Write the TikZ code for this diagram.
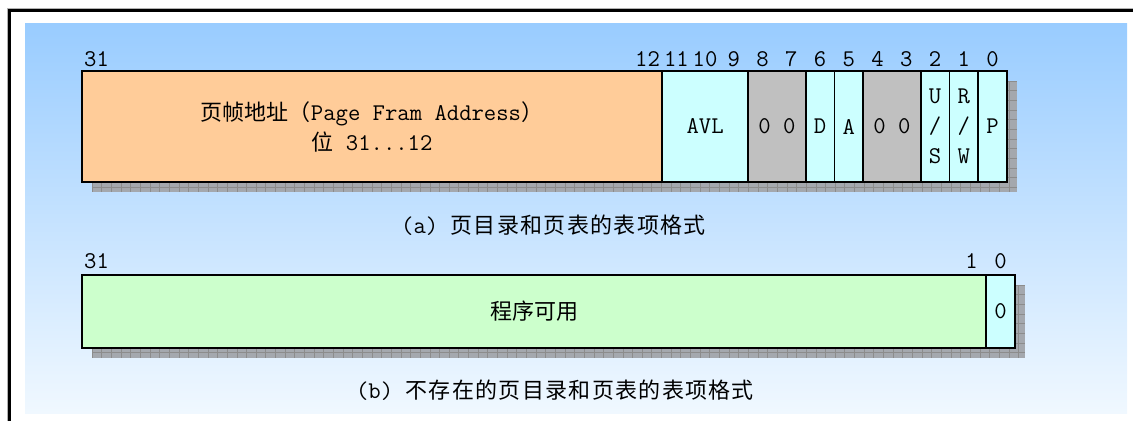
\documentclass[tikz,border=0pt]{standalone}
\usepackage{fontspec}
\newfontfamily\cjkf{Noto Sans CJK SC}
\newfontfamily\cjkcapf[LetterSpace=6]{Noto Sans CJK SC}
\newcommand\cjk{\cjkf\fontsize{22}{30}\selectfont}
\newcommand\cjkcap{\cjkcapf\fontsize{22}{30}\selectfont}
\definecolor{bgtop}{HTML}{99CCFF}
\definecolor{bgbot}{HTML}{F0F8FF}
\definecolor{orangec}{HTML}{FFCC99}
\definecolor{cyanc}{HTML}{CCFFFF}
\definecolor{grayc}{HTML}{C0C0C0}
\definecolor{greenc}{HTML}{CCFFCC}
\definecolor{shadowc}{HTML}{A4A8AE}
\definecolor{shadowl}{HTML}{8C8C8C}
\newcommand\mainfs{\ttfamily\fontsize{24}{30}\selectfont\addfontfeature{FakeStretch=0.85}}
\newcommand\mkshadow[4]{%
  \begin{scope}
    \clip (#1,#2) rectangle (#3,#4);
    \fill[shadowc] (#1,#2) rectangle (#3,#4);
    \foreach \xx in {0,9.65,...,1000} \draw[shadowline] (#1+\xx,#2) -- (#1+\xx,#4);
    \foreach \yy in {0,9.65,...,200} \draw[shadowline] (#1,#2+\yy) -- (#3,#2+\yy);
  \end{scope}}
\begin{document}
\begin{tikzpicture}[x=1pt,y=-1pt,
  cell/.style={draw=black, line width=1.6pt, inner sep=0pt, align=center, font=\mainfs},
  bitlabel/.style={inner sep=0pt, font=\mainfs},
  caption/.style={inner sep=0pt, font=\mainfs},
  shadowline/.style={draw=shadowl, line width=0.5pt}]
\useasboundingbox (0,0) rectangle (1133,421);
% background
\shade[top color=bgtop, bottom color=bgbot] (25,23) rectangle (1127,413);
% frame
\draw[gray!60, line width=1pt] (7,421) -- (7,8) -- (1133,8);
\draw[black, line width=2.5pt] (9.5,421) -- (9.5,10.5) -- (1133,10.5);
% shadows
\mkshadow{92}{81}{1017}{192}
\mkshadow{92}{285}{1025}{358}
% (a) entry
\node[cell, fill=orangec, minimum width=580, minimum height=111] (addr) at (372,126.5)
  {{\cjk 页帧地址（}Page Fram Address{\cjk ）}\\{\cjk 位} 31...12};
\node[cell, fill=cyanc, minimum width=86.25, minimum height=111] (avl) at (705.125,126.5) {AVL};
\node[cell, fill=grayc, minimum width=57.5, minimum height=111] (rsvA) at (777,126.5) {0 0};
\node[cell, fill=cyanc, minimum width=28.75, minimum height=111] (dbit) at (820.125,126.5) {D};
\node[cell, fill=cyanc, minimum width=28.75, minimum height=111] (abit) at (848.875,126.5) {A};
\node[cell, fill=grayc, minimum width=57.5, minimum height=111] (rsvB) at (892,126.5) {0 0};
\node[cell, fill=cyanc, minimum width=28.75, minimum height=111] (usbit) at (935.125,126.5) {U\\/\\S};
\node[cell, fill=cyanc, minimum width=28.75, minimum height=111] (rwbit) at (963.875,126.5) {R\\/\\W};
\node[cell, fill=cyanc, minimum width=28.75, minimum height=111] (pbit) at (992.625,126.5) {P};
% bit numbers (a)
\node[bitlabel] (a31) at (96.5,59) {31};
\node[bitlabel] (a12) at (647.6,59) {12};
\node[bitlabel] (a11) at (676.4,59) {11};
\node[bitlabel] (a10) at (705.1,59) {10};
\node[bitlabel] (a9) at (733.9,59) {9};
\node[bitlabel] (a8) at (762.6,59) {8};
\node[bitlabel] (a7) at (791.4,59) {7};
\node[bitlabel] (a6) at (820.1,59) {6};
\node[bitlabel] (a5) at (848.9,59) {5};
\node[bitlabel] (a4) at (877.6,59) {4};
\node[bitlabel] (a3) at (906.4,59) {3};
\node[bitlabel] (a2) at (935.1,59) {2};
\node[bitlabel] (a1) at (963.9,59) {1};
\node[bitlabel] (a0) at (992.6,59) {0};
\node[caption] (capa) at (553.5,225) {(a)~{\cjkcap 页目录和页表的表项格式}};
% (b) entry
\node[cell, fill=greenc, minimum width=904, minimum height=73] (prog) at (534,311.5) {\cjk 程序可用};
\node[cell, fill=cyanc, minimum width=29, minimum height=73] (zero) at (1000.5,311.5) {0};
\node[bitlabel] (b31) at (96.5,261) {31};
\node[bitlabel] (b1) at (971.5,261) {1};
\node[bitlabel] (b0) at (1000.5,261) {0};
\node[caption] (capb) at (555,390) {(b)~{\cjkcap 不存在的页目录和页表的表项格式}};
\end{tikzpicture}
\end{document}
